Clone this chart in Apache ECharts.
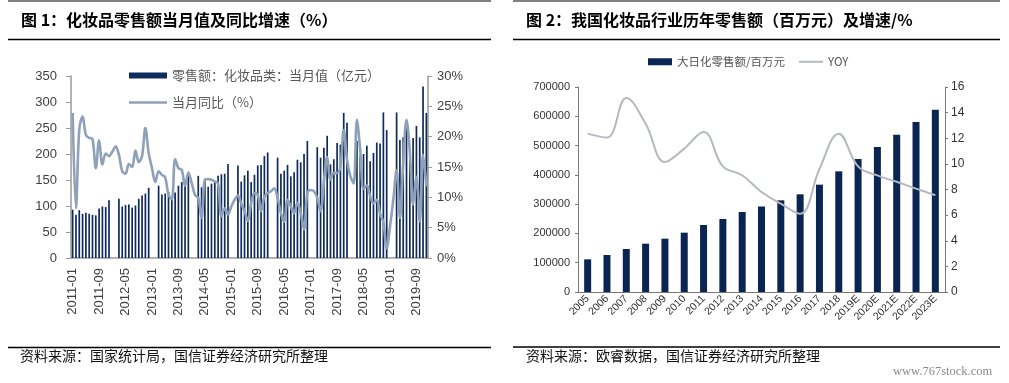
<!DOCTYPE html>
<html><head><meta charset="utf-8">
<script src="https://cdn.jsdelivr.net/npm/echarts@6/dist/echarts.min.js"></script>
<style>html,body{margin:0;padding:0;background:#fff}#c{width:1009px;height:383px}</style>
</head><body><div id="c"></div>
<script>
// ---------- Chart 1 data (monthly, 亿元 / %) ----------
const c1Years = [2011, 2012, 2013, 2014, 2015, 2016, 2017, 2018, 2019];
const sales2011 = [93, 83, 92, 85, 87, 85, 83, 82, 95, 99, 98, 111];
const sales2012 = [null, null, 114, 99, 102, 103, 97, 101, 114, 120, 124, 135];
const sales2013 = [null, null, 139, 122, 124, 127, 113, 126, 139, 146, 150, 160];
const sales2014 = [null, null, 158, 136, 151, 137, 143, 146, 158, 161, 162, 181];
const sales2015 = [null, null, 178, 147, 159, 168, 146, 160, 178, 179, 196, 203];
const sales2016 = [null, null, 193, 162, 168, 179, 157, 165, 189, 184, 200, 225];
const sales2017 = [null, null, 213, 193, 212, 235, 180, 190, 221, 218, 279, 260];
const sales2018 = [null, null, 225, 195, 200, 216, 186, 202, 222, 220, 280, 246];
const sales2019 = [null, null, 280, 227, 232, 264, 200, 231, 254, 232, 330, 279];

const yoy2011 = [23.9, 8.2, 21.2, 23.3, 20.3, 19.8, 19.6, 14.8, 19.4, 15.4, 17.2, 16.8];
const yoy2012 = [17.5, 18.4, 17.0, 14.3, 13.9, 15.5, 15.0, 17.7, 15.8, 16.8, 21.4, 17.3];
const yoy2013 = [14.8, 12.5, 14.3, 13.7, 13.3, 10.4, 9.7, 16.3, 14.8, 14.5, 11.9, 14.1];
const yoy2014 = [12.4, 10.4, 9.9, 6.6, 12.9, 13.0, 12.9, 12.6, 12.3, 6.9, 8.2, 7.2];
const yoy2015 = [8.5, 9.6, 10.3, 9.0, 7.7, 6.1, 9.0, 10.7, 10.4, 7.7, 10.1, 10.7];
const yoy2016 = [11.0, 11.5, 9.9, 7.4, 6.0, 9.6, 8.5, 7.4, 9.1, 7.4, 4.7, 10.7];
const yoy2017 = [11.2, 11.0, 9.9, 7.7, 12.6, 16.7, 12.9, 14.0, 14.0, 15.1, 21.1, 16.2];
const yoy2018 = [13.5, 12.3, 22.8, 17.8, 11.4, 12.0, 10.2, 9.0, 9.6, 7.3, 5.9, 1.6];
const yoy2019 = [5.2, 9.6, 14.5, 6.6, 15.6, 22.8, 17.6, 8.8, 13.4, 6.0, 17.0, 11.8];

const c1LeftTicks = {min: 0, max: 350, interval: 50};
const c1RightTicks = {min: 0, max: 30, interval: 5};

// ---------- Chart 2 data (annual, 百万元 / %) ----------
const c2Years = ['2005', '2006', '2007', '2008', '2009', '2010', '2011', '2012', '2013', '2014',
  '2015', '2016', '2017', '2018', '2019E', '2020E', '2021E', '2022E', '2023E'];
const c2Sales = [111500, 126300, 146800, 165000, 182100, 202600, 228800, 249300, 273200, 292000,
  313000, 333500, 366500, 412000, 454100, 495100, 537200, 580500, 622600];
const c2Yoy = [12.36, 12.05, 15.14, 13.14, 10.15, 11.19, 12.49, 9.81, 9.11, 7.8,
  6.89, 6.11, 9.6, 12.36, 9.81, 9.1, 8.6, 8.07, 7.55];

// ---------- build ----------
const c1Months = [];
c1Years.forEach(y => { for (let m = 1; m <= 12; m++) c1Months.push(y + '-' + (m < 10 ? '0' : '') + m); });
const c1Sales = [].concat(sales2011, sales2012, sales2013, sales2014, sales2015, sales2016, sales2017, sales2018, sales2019);
const c1Yoy = [].concat(yoy2011, yoy2012, yoy2013, yoy2014, yoy2015, yoy2016, yoy2017, yoy2018, yoy2019);

const NAVY = '#0f2a5c';
const LINE1 = '#8ea1b8';
const LINE2 = '#b4b9bf';
const CJK = '"Noto Sans CJK SC", "Noto Sans", sans-serif';
const LAT = '"Liberation Sans", Arial, sans-serif';
const s1 = '零售额：化妆品类：当月值（亿元）';
const s2 = '当月同比（%）';
const s3 = '大日化零售额/百万元';
const s4 = 'YOY';

const hline = (x1, x2, y, w) => ({type: 'line', shape: {x1: x1, y1: y, x2: x2, y2: y}, style: {stroke: '#000', lineWidth: w}, silent: true});
const txt = (x, y, t, size, weight, color, font) => ({type: 'text', left: x, top: y, style: {text: t, font: (weight || 'normal') + ' ' + size + 'px ' + (font || CJK), fill: color || '#000'}, silent: true});
const leg = (name, left, top, w, h, color, fs, tc) => ({orient: 'horizontal', left: left, top: top, padding: 0,
  itemWidth: w, itemHeight: h, data: [{name: name, icon: 'rect', itemStyle: {color: color}}],
  textStyle: {fontSize: fs, color: tc, fontFamily: CJK, padding: [0, 0, 0, 0]}});

const chart = echarts.init(document.getElementById('c'), null, {renderer: 'canvas'});
const axisGray = '#9a9a9a';
chart.setOption({
  animation: false,
  backgroundColor: '#fff',
  graphic: [
    hline(8, 491, 1, 1), hline(8, 491, 39.5, 1.5), hline(8, 491, 347.5, 1.5),
    hline(513, 1000, 1, 1), hline(513, 1000, 39.5, 1.5), hline(513, 1000, 347, 1.5),
    txt(21, 12, '图 1：化妆品零售额当月值及同比增速（%）', 16, 'bold'),
    txt(526, 12, '图 2：我国化妆品行业历年零售额（百万元）及增速/%', 16, 'bold'),
    txt(20, 349, '资料来源：国家统计局，国信证券经济研究所整理', 14, 'normal', '#111'),
    txt(526, 349, '资料来源：欧睿数据，国信证券经济研究所整理', 14, 'normal', '#111'),
    txt(893, 365, 'www.767stock.com', 12.5, 'normal', '#8a8a8a', '"Liberation Serif", serif')
  ],
  legend: [
    leg(s1, 129, 69, 38, 6, NAVY, 13, '#595959'),
    leg(s2, 129, 96, 38, 2.5, LINE1, 13, '#595959'),
    leg(s3, 648, 56, 24, 7, '#0b2553', 11.5, '#555'),
    leg(s4, 799, 56, 24, 2, LINE2, 11.5, '#555')
  ],
  grid: [
    {left: 71, right: 581, top: 76, bottom: 125},
    {left: 578, right: 64, top: 87, bottom: 91}
  ],
  xAxis: [
    {type: 'category', gridIndex: 0, data: c1Months, boundaryGap: true,
      axisLine: {lineStyle: {color: axisGray, width: 1.5}},
      axisTick: {interval: 7, alignWithLabel: true, length: 4, lineStyle: {color: axisGray}},
      axisLabel: {interval: 7, rotate: 90, fontSize: 13, color: '#404040', margin: 10, fontFamily: LAT}},
    {type: 'category', gridIndex: 1, data: c2Years, boundaryGap: true,
      axisLine: {lineStyle: {color: '#777', width: 1}},
      axisTick: {length: 3, lineStyle: {color: '#777'}},
      axisLabel: {interval: 0, rotate: 45, fontSize: 10.5, color: '#333', margin: 5, fontFamily: LAT}}
  ],
  yAxis: [
    {type: 'value', gridIndex: 0, min: c1LeftTicks.min, max: c1LeftTicks.max, interval: c1LeftTicks.interval,
      splitLine: {show: false},
      axisLine: {show: true, lineStyle: {color: axisGray, width: 1.5}},
      axisTick: {show: true, length: 5, lineStyle: {color: axisGray}},
      axisLabel: {fontSize: 13, color: '#404040', margin: 14, fontFamily: LAT}},
    {type: 'value', gridIndex: 0, position: 'right', min: c1RightTicks.min, max: c1RightTicks.max, interval: c1RightTicks.interval,
      splitLine: {show: false},
      axisLine: {show: true, lineStyle: {color: axisGray, width: 1.5}},
      axisTick: {show: true, length: 4, lineStyle: {color: axisGray}},
      axisLabel: {fontSize: 13, color: '#404040', margin: 9, formatter: '{value}%', fontFamily: LAT}},
    {type: 'value', gridIndex: 1, min: 0, max: 700000, interval: 100000,
      splitLine: {show: false},
      axisLine: {show: true, lineStyle: {color: '#777'}},
      axisTick: {show: true, length: 3, lineStyle: {color: '#777'}},
      axisLabel: {fontSize: 11, color: '#333', margin: 8, fontFamily: LAT, formatter: v => String(v)}},
    {type: 'value', gridIndex: 1, position: 'right', min: 0, max: 16, interval: 2,
      splitLine: {show: false},
      axisLine: {show: true, lineStyle: {color: '#777'}},
      axisTick: {show: true, length: 3, lineStyle: {color: '#777'}},
      axisLabel: {fontSize: 12, color: '#333', margin: 6, fontFamily: LAT}}
  ],
  series: [
    {name: s1, type: 'bar', xAxisIndex: 0, yAxisIndex: 0, data: c1Sales, barWidth: 1.7,
      itemStyle: {color: NAVY}},
    {name: s2, type: 'line', xAxisIndex: 0, yAxisIndex: 1, data: c1Yoy, smooth: 0.35, symbol: 'none',
      connectNulls: true, lineStyle: {color: LINE1, width: 2.6}, itemStyle: {color: LINE1}, z: 3},
    {name: s3, type: 'bar', xAxisIndex: 1, yAxisIndex: 2, data: c2Sales, barWidth: 7,
      itemStyle: {color: '#0b2553'}},
    {name: s4, type: 'line', xAxisIndex: 1, yAxisIndex: 3, data: c2Yoy, smooth: 0.4, symbol: 'none',
      lineStyle: {color: LINE2, width: 2}, itemStyle: {color: LINE2}, z: 3}
  ]
});
</script></body></html>
